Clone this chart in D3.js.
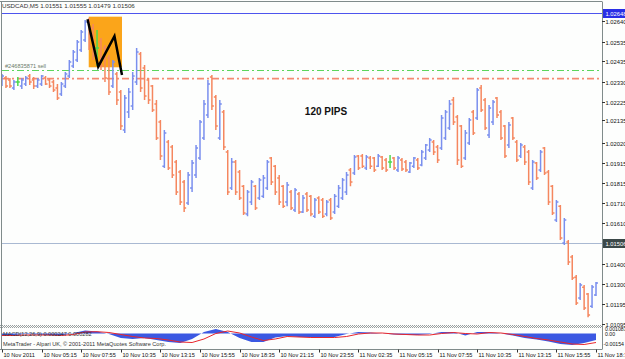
<!DOCTYPE html>
<html>
<head>
<meta charset="utf-8">
<script src="https://cdn.jsdelivr.net/npm/d3@7"></script>
<style>
	html, body { margin: 0; padding: 0; background: #fdfefd; overflow: hidden; }
	svg { display: block; font-family: "Liberation Sans", Arial, sans-serif; }
</style>
</head>
<body>
<svg id="chart" width="625" height="359"></svg>
<script>
// USDCAD M5 bars: [open, high, low, close]
const bars = [
	[1.02319, 1.02370, 1.02308, 1.02359], [1.02349, 1.02359, 1.02298, 1.02308], [1.02339, 1.02349, 1.02298, 1.02308],
	[1.02298, 1.02339, 1.02288, 1.02329], [1.02329, 1.02354, 1.02308, 1.02329], [1.02308, 1.02349, 1.02293, 1.02339],
	[1.02319, 1.02359, 1.02308, 1.02349], [1.02359, 1.02370, 1.02314, 1.02329], [1.02339, 1.02354, 1.02293, 1.02308],
	[1.02308, 1.02349, 1.02298, 1.02339], [1.02319, 1.02365, 1.02308, 1.02359], [1.02349, 1.02359, 1.02314, 1.02319],
	[1.02339, 1.02349, 1.02298, 1.02308], [1.02329, 1.02339, 1.02278, 1.02288], [1.02298, 1.02319, 1.02237, 1.02247],
	[1.02268, 1.02329, 1.02257, 1.02319], [1.02308, 1.02380, 1.02298, 1.02370], [1.02359, 1.02441, 1.02349, 1.02431],
	[1.02410, 1.02492, 1.02400, 1.02482], [1.02441, 1.02543, 1.02431, 1.02533], [1.02492, 1.02594, 1.02482, 1.02584],
	[1.02543, 1.02645, 1.02533, 1.02635], [1.02635, 1.02655, 1.02492, 1.02512], [1.02604, 1.02625, 1.02441, 1.02461],
	[1.02502, 1.02594, 1.02410, 1.02502], [1.02533, 1.02553, 1.02390, 1.02410], [1.02502, 1.02518, 1.02329, 1.02349],
	[1.02451, 1.02467, 1.02263, 1.02278], [1.02308, 1.02441, 1.02298, 1.02431], [1.02370, 1.02380, 1.02212, 1.02237],
	[1.02278, 1.02288, 1.02084, 1.02104], [1.02084, 1.02263, 1.02069, 1.02247], [1.02176, 1.02298, 1.02145, 1.02278],
	[1.02206, 1.02380, 1.02186, 1.02359], [1.02329, 1.02502, 1.02314, 1.02482], [1.02472, 1.02482, 1.02278, 1.02298],
	[1.02400, 1.02416, 1.02237, 1.02257], [1.02339, 1.02349, 1.02217, 1.02237], [1.02308, 1.02314, 1.02176, 1.02186],
	[1.02217, 1.02237, 1.02033, 1.02043], [1.02125, 1.02135, 1.01931, 1.01951], [1.01900, 1.02084, 1.01890, 1.02069],
	[1.02023, 1.02033, 1.01880, 1.01890], [1.01997, 1.02008, 1.01839, 1.01855], [1.01921, 1.01931, 1.01753, 1.01768],
	[1.01870, 1.01880, 1.01702, 1.01717], [1.01819, 1.01829, 1.01666, 1.01686], [1.01712, 1.01870, 1.01702, 1.01855],
	[1.01788, 1.01931, 1.01768, 1.01916], [1.01855, 1.02008, 1.01839, 1.01992], [1.01941, 1.02135, 1.01931, 1.02125],
	[1.02043, 1.02237, 1.02033, 1.02217], [1.02161, 1.02339, 1.02145, 1.02319], [1.02354, 1.02365, 1.02186, 1.02206],
	[1.02252, 1.02263, 1.02084, 1.02104], [1.02043, 1.02237, 1.02033, 1.02217], [1.02176, 1.02186, 1.01982, 1.01997],
	[1.01972, 1.01982, 1.01753, 1.01768], [1.01788, 1.01941, 1.01778, 1.01921], [1.01921, 1.01931, 1.01753, 1.01768],
	[1.01870, 1.01880, 1.01727, 1.01737], [1.01798, 1.01804, 1.01651, 1.01661], [1.01656, 1.01778, 1.01645, 1.01768],
	[1.01717, 1.01829, 1.01702, 1.01819], [1.01798, 1.01804, 1.01676, 1.01686], [1.01737, 1.01839, 1.01727, 1.01829],
	[1.01747, 1.01855, 1.01737, 1.01839], [1.01788, 1.01931, 1.01778, 1.01921], [1.01941, 1.01946, 1.01804, 1.01819],
	[1.01900, 1.01906, 1.01753, 1.01768], [1.01839, 1.01855, 1.01702, 1.01717], [1.01798, 1.01804, 1.01686, 1.01696],
	[1.01717, 1.01819, 1.01696, 1.01804], [1.01768, 1.01778, 1.01676, 1.01686], [1.01676, 1.01788, 1.01666, 1.01778],
	[1.01758, 1.01768, 1.01656, 1.01666], [1.01666, 1.01753, 1.01661, 1.01737], [1.01758, 1.01768, 1.01666, 1.01676],
	[1.01747, 1.01753, 1.01645, 1.01656], [1.01645, 1.01737, 1.01635, 1.01727], [1.01737, 1.01747, 1.01656, 1.01666],
	[1.01727, 1.01737, 1.01635, 1.01645], [1.01656, 1.01727, 1.01645, 1.01717], [1.01727, 1.01737, 1.01625, 1.01635],
	[1.01666, 1.01758, 1.01656, 1.01747], [1.01696, 1.01804, 1.01686, 1.01788], [1.01737, 1.01839, 1.01727, 1.01829],
	[1.01768, 1.01870, 1.01753, 1.01855], [1.01880, 1.01890, 1.01798, 1.01819], [1.01865, 1.01957, 1.01855, 1.01946],
	[1.01951, 1.01957, 1.01880, 1.01890], [1.01951, 1.01962, 1.01890, 1.01900], [1.01890, 1.01957, 1.01880, 1.01946],
	[1.01941, 1.01951, 1.01885, 1.01900], [1.01941, 1.01946, 1.01870, 1.01880], [1.01900, 1.01962, 1.01895, 1.01951],
	[1.01946, 1.01951, 1.01880, 1.01890], [1.01931, 1.01941, 1.01870, 1.01880], [1.01921, 1.01957, 1.01890, 1.01921],
	[1.01941, 1.01946, 1.01880, 1.01890], [1.01880, 1.01951, 1.01870, 1.01941], [1.01931, 1.01941, 1.01875, 1.01885],
	[1.01921, 1.01931, 1.01870, 1.01880], [1.01870, 1.01921, 1.01865, 1.01916], [1.01900, 1.01946, 1.01890, 1.01941],
	[1.01931, 1.01941, 1.01880, 1.01890], [1.01906, 1.01982, 1.01900, 1.01972], [1.01941, 1.02013, 1.01931, 1.02008],
	[1.01982, 1.02043, 1.01972, 1.02033], [1.02023, 1.02033, 1.01957, 1.01972], [1.01997, 1.02008, 1.01916, 1.01931],
	[1.01992, 1.02161, 1.01982, 1.02145], [1.02043, 1.02186, 1.02033, 1.02176], [1.02094, 1.02237, 1.02084, 1.02217],
	[1.02237, 1.02252, 1.02110, 1.02125], [1.02150, 1.02161, 1.01906, 1.01931], [1.02104, 1.02110, 1.01890, 1.01900],
	[1.01941, 1.02084, 1.01931, 1.02069], [1.02018, 1.02145, 1.02008, 1.02135], [1.02176, 1.02186, 1.02059, 1.02069],
	[1.02145, 1.02298, 1.02135, 1.02288], [1.02298, 1.02314, 1.02176, 1.02186], [1.02237, 1.02247, 1.02084, 1.02094],
	[1.02059, 1.02212, 1.02043, 1.02196], [1.02125, 1.02237, 1.02110, 1.02227], [1.02247, 1.02252, 1.02145, 1.02161],
	[1.02176, 1.02186, 1.02033, 1.02043], [1.02104, 1.02110, 1.01941, 1.01951], [1.02008, 1.02125, 1.01992, 1.02110],
	[1.02145, 1.02150, 1.02033, 1.02043], [1.02023, 1.02033, 1.01921, 1.01931], [1.01951, 1.02018, 1.01941, 1.02008],
	[1.01997, 1.02008, 1.01906, 1.01921], [1.01972, 1.01982, 1.01804, 1.01819], [1.01788, 1.01931, 1.01778, 1.01921],
	[1.01916, 1.01921, 1.01829, 1.01839], [1.01880, 1.01982, 1.01870, 1.01972], [1.01992, 1.01997, 1.01855, 1.01865],
	[1.01870, 1.01880, 1.01702, 1.01717], [1.01798, 1.01804, 1.01651, 1.01661], [1.01625, 1.01727, 1.01615, 1.01717],
	[1.01696, 1.01702, 1.01523, 1.01533], [1.01508, 1.01635, 1.01498, 1.01625], [1.01513, 1.01523, 1.01396, 1.01411],
	[1.01436, 1.01447, 1.01319, 1.01329], [1.01334, 1.01345, 1.01192, 1.01202], [1.01227, 1.01304, 1.01217, 1.01294],
	[1.01283, 1.01294, 1.01166, 1.01176], [1.01248, 1.01253, 1.01130, 1.01141], [1.01186, 1.01294, 1.01176, 1.01284],
	[1.01243, 1.01309, 1.01238, 1.01304]
];

// one label every 10 bars on the time axis
const timeLabels = ['10 Nov 2011', '10 Nov 05:15', '10 Nov 07:55', '10 Nov 10:35', '10 Nov 13:15', '10 Nov 15:55',
	'10 Nov 18:35', '10 Nov 21:15', '10 Nov 23:55', '11 Nov 02:35', '11 Nov 05:15', '11 Nov 07:55',
	'11 Nov 10:35', '11 Nov 13:15', '11 Nov 15:55', '11 Nov 18:35'];

const priceTicks = [1.02640, 1.02535, 1.02435, 1.02330, 1.02225, 1.02135, 1.02020, 1.01915,
	1.01815, 1.01710, 1.01610, 1.01400, 1.01300, 1.01195, 1.01095];

// MACD(12,26,9), one reading every 3 bars
const macdMain = [-0.00015, -0.00015, -0.00005, -0.0001, -0.00015, -0.0002, 0.00005, 0.0003, 0.0002, -0.00005,
	-0.00045, -0.00055, -0.00045, -0.00065, -0.00085, -0.00095, -0.00055, 0.00015, 0.00045, 0.00015,
	-0.00045, -0.00085, -0.00085, -0.0004, -0.00025, -0.00035, -0.00035, -0.00045, -0.00035, -0.00005,
	0.00015, 0.0001, 0, -0.0001, -0.00015, -0.00015, -0.00005, 0.00015, 0.00015, -0.0002,
	0.00015, 0.00015, 0, -0.0002, -0.00045, -0.0006, -0.0008, -0.00105, -0.00115, -0.00095, -0.00065];
const macdSignal = [-0.0002, -0.0002, -0.00015, -0.00015, -0.00015, -0.0002, -0.0001, 0.00015, 0.00018, 0.0001,
	-0.0001, -0.0003, -0.00045, -0.0005, -0.00065, -0.00085, -0.0009, -0.00055, 0, 0.00025,
	0.00005, -0.00035, -0.0007, -0.00055, -0.0003, -0.00035, -0.0004, -0.0004, -0.0004, -0.0003,
	-0.00005, 0.00005, 0.00005, -0.00005, -0.0001, -0.00015, -0.00015, 0, 0.0001, 0,
	-0.00005, 0.0001, 0.00005, -0.0001, -0.0003, -0.0005, -0.00065, -0.00085, -0.00105, -0.0011, -0.0009];
const macdScaleLabels = ['0.001083', '0.00', '-0.00154'];

// horizontal lines: level, on-axis tag
const topLine = 1.02683, topTag = '1.02648';
const bidLine = 1.01506, bidTag = '1.01506';
const orderLine = 1.02389, orderTag = '#246835871 sell';
const stopLine = 1.02346;

// drawn objects: rectangle and zigzag trendlines (bar index, price)
const boxBars = [21.9, 30.3], boxPrices = [1.02662, 1.02404];
const zigBars = [21.6, 24.3, 28.4, 30.3], zigPrices = [1.02649, 1.02407, 1.02563, 1.02365];

const title = 'USDCAD,M5  1.01551 1.01555 1.01479 1.01506';
const macdTitle = 'MACD(12,26,9) 0.000247 0.000282';
const footer = 'MetaTrader - Alpari UK, \u00a9 2001-2011 MetaQuotes Software Corp.';
const note = '120 PIPS';

const upColor = '#7a8fee', downColor = '#f5875f', dojiColor = '#4fd84f';
const frameColor = '#808b8b';

const svg = d3.select('#chart');
const W = 625, H = 359;
const plotLeft = 2, plotRight = 602, plotTop = 1.5, mainBottom = 325, macdTop = 328, macdBottom = 349.5;

svg.append('rect').attr('width', W).attr('height', H).attr('fill', '#fdfefd');

const x = d3.scaleLinear().domain([0, 150]).range([2, 596]);
const y = d3.scaleLinear().domain([1.01095, 1.02640]).range([324, 21]);
const my = d3.scaleLinear().domain([-0.0013, 0.00055]).range([346.5, 328]);

const defs = svg.append('defs');
defs.append('clipPath').attr('id', 'mainClip')
	.append('rect').attr('x', plotLeft).attr('y', plotTop).attr('width', plotRight - plotLeft).attr('height', mainBottom - plotTop);
defs.append('clipPath').attr('id', 'macdClip')
	.append('rect').attr('x', plotLeft).attr('y', macdTop).attr('width', plotRight - plotLeft).attr('height', macdBottom - macdTop);

const plot = svg.append('g').attr('clip-path', 'url(#mainClip)');

// rectangle object sits behind the bars
plot.append('rect')
	.attr('x', x(boxBars[0]))
	.attr('y', y(boxPrices[0]))
	.attr('width', x(boxBars[1]) - x(boxBars[0]))
	.attr('height', y(boxPrices[1]) - y(boxPrices[0]))
	.attr('fill', '#fba51a');

// horizontal lines
plot.append('line')
	.attr('x1', plotLeft).attr('x2', plotRight)
	.attr('y1', Math.round(y(topLine)) + 0.5).attr('y2', Math.round(y(topLine)) + 0.5)
	.attr('stroke', '#4d55ee').attr('stroke-width', 1.2);
plot.append('line')
	.attr('x1', plotLeft).attr('x2', plotRight)
	.attr('y1', Math.round(y(orderLine)) + 0.5).attr('y2', Math.round(y(orderLine)) + 0.5)
	.attr('stroke', '#5cd65c').attr('stroke-width', 1)
	.attr('stroke-dasharray', '7,3,2,3');
plot.append('line')
	.attr('x1', plotLeft).attr('x2', plotRight)
	.attr('y1', y(stopLine)).attr('y2', y(stopLine))
	.attr('stroke', '#f58a72').attr('stroke-width', 1.6)
	.attr('stroke-dasharray', '7,3,2,3');
plot.append('line')
	.attr('x1', plotLeft).attr('x2', plotRight)
	.attr('y1', Math.round(y(bidLine)) + 0.5).attr('y2', Math.round(y(bidLine)) + 0.5)
	.attr('stroke', '#a9b9d2').attr('stroke-width', 1.2);

// OHLC bars
plot.selectAll('path.bar')
	.data(bars)
	.join('path')
	.attr('class', 'bar')
	.attr('d', (b, i) => {
		const cx = x(i);
		return `M${cx},${y(b[1])}V${y(b[2])}M${cx - 2},${y(b[0])}H${cx}M${cx},${y(b[3])}H${cx + 2}`;
	})
	.attr('fill', 'none')
	.attr('stroke', b => b[3] > b[0] ? upColor : (b[3] < b[0] ? downColor : dojiColor))
	.attr('stroke-width', 1.5);

// zigzag trendlines on top
plot.append('path')
	.datum(zigBars.map((t, k) => [t, zigPrices[k]]))
	.attr('d', d3.line().x(d => x(d[0])).y(d => y(d[1])))
	.attr('fill', 'none')
	.attr('stroke', '#000')
	.attr('stroke-width', 2.5);

plot.append('text')
	.attr('x', 5).attr('y', y(orderLine) - 2)
	.attr('font-size', 5.6).attr('fill', '#6b7b6b')
	.text(orderTag);

plot.append('text')
	.attr('x', 326).attr('y', 114.5)
	.attr('text-anchor', 'middle')
	.attr('font-size', 10).attr('font-weight', 'bold').attr('fill', '#111')
	.text(note);

svg.append('text')
	.attr('x', 2).attr('y', 8)
	.attr('font-size', 6.2).attr('fill', '#333')
	.text(title);

// MACD sub window
const macd = svg.append('g').attr('clip-path', 'url(#macdClip)');
const mx = (d, k) => x(3 * k);

svg.append('text')
	.attr('x', 3).attr('y', 335.5)
	.attr('font-size', 5.6).attr('fill', '#333')
	.text(macdTitle);

macd.append('path')
	.datum(macdMain)
	.attr('d', d3.area().x(mx).y0(my(0)).y1(d => my(d)))
	.attr('fill', '#3b58e2');
macd.append('path')
	.datum(macdSignal)
	.attr('d', d3.line().x(mx).y(d => my(d)))
	.attr('fill', 'none')
	.attr('stroke', '#e8262c')
	.attr('stroke-width', 1);

svg.append('text')
	.attr('x', 3).attr('y', 345.5)
	.attr('font-size', 5.6).attr('fill', '#333')
	.text(footer);

// separator between windows
[325.5, 326.5, 327.5].forEach((sy, k) => {
	svg.append('line')
		.attr('x1', 0).attr('x2', plotRight).attr('y1', sy).attr('y2', sy)
		.attr('stroke', '#9aa0a0').attr('stroke-width', 1)
		.attr('stroke-dasharray', '1,1').attr('stroke-dashoffset', k % 2);
});

// frame
svg.append('line').attr('x1', 0).attr('x2', plotRight).attr('y1', plotTop).attr('y2', plotTop).attr('stroke', frameColor);
svg.append('line').attr('x1', 1.5).attr('x2', 1.5).attr('y1', plotTop).attr('y2', macdBottom).attr('stroke', frameColor);
svg.append('line').attr('x1', plotRight + 0.5).attr('x2', plotRight + 0.5).attr('y1', plotTop).attr('y2', macdBottom).attr('stroke', frameColor);
svg.append('line').attr('x1', 0).attr('x2', plotRight).attr('y1', macdBottom).attr('y2', macdBottom).attr('stroke', frameColor);

// price scale
const priceAxis = svg.append('g');
priceTicks.forEach(p => {
	const py = Math.round(y(p)) + 0.5;
	priceAxis.append('line').attr('x1', plotRight).attr('x2', plotRight + 3).attr('y1', py).attr('y2', py).attr('stroke', '#333');
	priceAxis.append('text')
		.attr('x', plotRight + 3.5).attr('y', py + 2)
		.attr('font-size', 5.8).attr('fill', '#111')
		.text(p.toFixed(5));
});

function tagBox(level, tag, bg) {
	const py = Math.round(y(level)) + 0.5;
	priceAxis.append('rect')
		.attr('x', plotRight + 1).attr('y', py - 4.5).attr('width', W - plotRight).attr('height', 9)
		.attr('fill', bg);
	priceAxis.append('text')
		.attr('x', plotRight + 3.5).attr('y', py + 2)
		.attr('font-size', 5.8).attr('fill', '#fff')
		.text(tag);
}
tagBox(topLine, topTag, '#2a2fe6');
tagBox(bidLine, bidTag, '#3b4848');

// MACD scale labels: window max, zero, window min
const macdLabelY = [331.3, 336.3, 345.5];
macdScaleLabels.forEach((t, k) => {
	svg.append('text')
		.attr('x', plotRight + (k === 2 ? 1.5 : 3)).attr('y', macdLabelY[k])
		.attr('font-size', 5.2).attr('fill', '#111')
		.text(t);
});

// time axis
timeLabels.forEach((t, k) => {
	const tx = Math.round(x(10 * k)) + 0.5;
	svg.append('line').attr('x1', tx).attr('x2', tx).attr('y1', macdBottom).attr('y2', macdBottom + 3).attr('stroke', '#333');
	svg.append('text')
		.attr('x', tx + 1).attr('y', 356.5)
		.attr('font-size', 5.6).attr('fill', '#111')
		.text(t);
});
</script>
</body>
</html>
